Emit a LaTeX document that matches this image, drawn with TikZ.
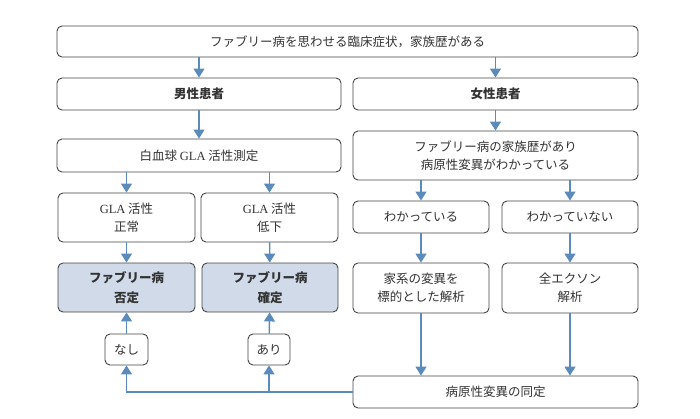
\documentclass[tikz,border=0pt]{standalone}
\usepackage{fontspec}
\setmainfont{Noto Sans CJK JP}
\newfontfamily\glafont{Liberation Serif}
\usetikzlibrary{arrows.meta}
\definecolor{boxline}{HTML}{444444}
\definecolor{bluefill}{HTML}{D0DAE8}
\definecolor{arrowc}{HTML}{5A8BBA}
\definecolor{txt}{HTML}{333333}
\begin{document}
\begin{tikzpicture}[x=1pt,y=-1pt,
  bx/.style={draw=boxline,line width=0.9pt,rounded corners=5pt,fill=white,text=txt,align=center,inner sep=0pt,font=\fontsize{12.5}{18}\selectfont},
  blue/.style={bx,fill=bluefill,font=\fontsize{12.5}{20}\selectfont\bfseries},
  arr/.style={draw=arrowc,line width=1.4pt,-{Triangle[width=11pt,length=9pt]}},
  ln/.style={draw=arrowc,line width=1.4pt}]
\useasboundingbox (0,0) rectangle (700,418);
\def\B#1#2#3#4#5#6{\node[#6,minimum width=#3-#1,minimum height=#4-#2] (#5) at ({(#1+#3)/2},{(#2+#4)/2})}
\B{57}{26}{638}{57}{top}{bx}{ファブリー病を思わせる臨床症状，家族歴がある};
\B{57}{78}{341}{110}{male}{bx}{\bfseries 男性患者};
\B{353}{78}{638}{110}{female}{bx}{\bfseries 女性患者};
\B{57}{139}{341}{172}{wbc}{bx}{白血球 {\glafont GLA} 活性測定};
\B{353}{131}{638}{180}{fam}{bx}{ファブリー病の家族歴があり\\病原性変異がわかっている};
\B{58}{193}{195}{242}{norm}{bx}{{\glafont GLA} 活性\\正常};
\B{201}{193}{338}{242}{low}{bx}{{\glafont GLA} 活性\\低下};
\B{353}{201}{489}{233}{known}{bx}{わかっている};
\B{502}{201}{638}{233}{unknown}{bx}{わかっていない};
\B{58}{263}{195}{312}{neg}{blue}{ファブリー病\\否定};
\B{202}{263}{338}{312}{pos}{blue}{ファブリー病\\確定};
\B{353}{263}{489}{313}{target}{bx}{家系の変異を\\標的とした解析};
\B{502}{263}{638}{313}{exon}{bx}{全エクソン\\解析};
\B{105}{334}{148}{365}{nashi}{bx}{なし};
\B{248}{334}{290}{365}{ari}{bx}{あり};
\B{353}{376}{638}{408}{ident}{bx}{病原性変異の同定};
% arrows
\draw[arr] (top.south -| male) -- (male.north);
\draw[arr] (top.south -| female) -- (female.north);
\draw[arr] (male) -- (wbc);
\draw[arr] (female) -- (fam);
\draw[arr] (wbc.south -| norm) -- (norm.north);
\draw[arr] (wbc.south -| low) -- (low.north);
\draw[arr] (fam.south -| known) -- (known.north);
\draw[arr] (fam.south -| unknown) -- (unknown.north);
\draw[arr] (norm) -- (neg);
\draw[arr] (low) -- (pos);
\draw[arr] (known) -- (target);
\draw[arr] (unknown) -- (exon);
\draw[arr] (target.south) -- (ident.north -| target);
\draw[arr] (exon.south) -- (ident.north -| exon);
\draw[arr] (nashi) -- (neg);
\draw[arr] (ari) -- (pos);
\coordinate (j1) at (ident.west |- 0,392);
\draw[arr] (j1) -| (nashi.south);
\draw[arr] (ari.south |- j1) -- (ari.south);
\end{tikzpicture}
\end{document}
